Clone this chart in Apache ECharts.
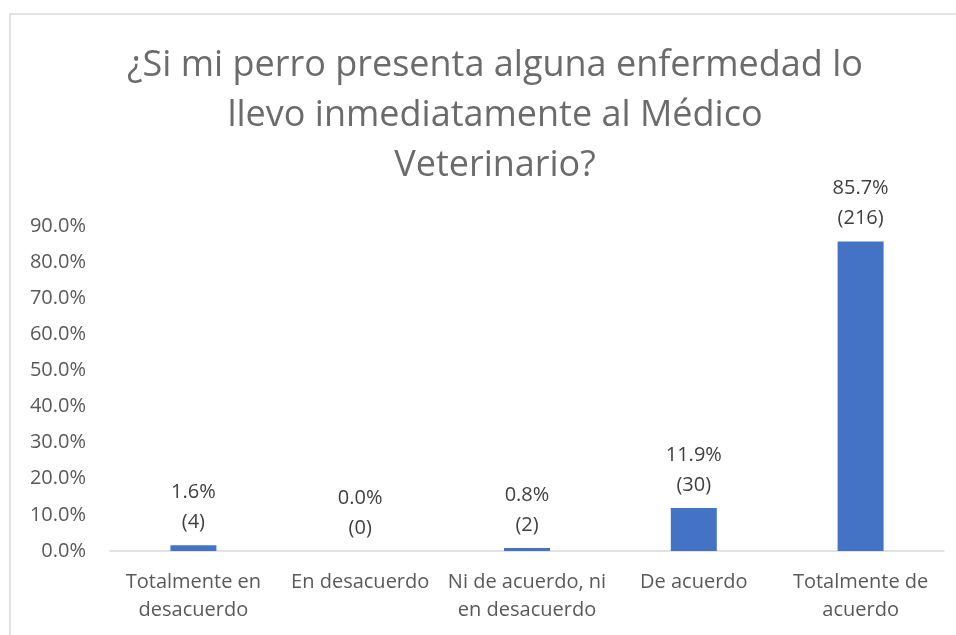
<!DOCTYPE html>
<html>
<head>
<meta charset="utf-8">
<script src="https://cdn.jsdelivr.net/npm/echarts@6/dist/echarts.min.js"></script>
<style>
  html, body { margin: 0; padding: 0; background: #fff; }
  #chart { width: 956px; height: 635px; }
</style>
</head>
<body>
<div id="chart"></div>
<script>
const categories = [
  "Totalmente en\ndesacuerdo",
  "En desacuerdo",
  "Ni de acuerdo, ni\nen desacuerdo",
  "De acuerdo",
  "Totalmente de\nacuerdo"
];
const percents = [1.6, 0.0, 0.8, 11.9, 85.7];
const counts = [4, 0, 2, 30, 216];
const yTicks = { min: 0, max: 90, interval: 10 };
const titleText = "¿Si mi perro presenta alguna enfermedad lo\nllevo inmediatamente al Médico\nVeterinario?";

const FONT = "Open Sans";
const chart = echarts.init(document.getElementById("chart"));

const option = {
  backgroundColor: "#fff",
  animation: false,
  title: {
    text: titleText,
    left: 490,
    top: 36,
    textAlign: "center",
    textStyle: {
      fontFamily: FONT,
      fontSize: 36,
      fontWeight: "normal",
      color: "#6b6b6b",
      lineHeight: 50
    }
  },
  graphic: [{
    type: "rect",
    shape: { x: 10, y: 14, width: 1000, height: 700 },
    style: { fill: "none", stroke: "#d9d9d9", lineWidth: 1.5 },
    silent: true
  }],
  grid: { left: 110, right: 12, top: 226, bottom: 84 },
  xAxis: {
    type: "category",
    data: categories,
    axisLine: { lineStyle: { color: "#d9d9d9", width: 1.5 } },
    axisTick: { show: false },
    axisLabel: {
      interval: 0,
      margin: 17,
      fontFamily: FONT,
      fontSize: 20,
      color: "#595959",
      lineHeight: 28
    }
  },
  yAxis: {
    type: "value",
    min: yTicks.min,
    max: yTicks.max,
    interval: yTicks.interval,
    splitLine: { show: false },
    axisLine: { show: false },
    axisTick: { show: false },
    axisLabel: {
      margin: 24,
      fontFamily: FONT,
      fontSize: 20,
      color: "#595959",
      formatter: v => v.toFixed(1) + "%"
    }
  },
  series: [{
    type: "bar",
    data: percents,
    barWidth: 46,
    itemStyle: { color: "#4472C4" },
    label: {
      show: true,
      position: "top",
      distance: 8,
      fontFamily: FONT,
      fontSize: 20,
      color: "#404040",
      lineHeight: 30,
      formatter: p => percents[p.dataIndex].toFixed(1) + "%\n(" + counts[p.dataIndex] + ")"
    }
  }]
};

chart.setOption(option);
window.addEventListener("resize", () => chart.resize());
</script>
</body>
</html>
